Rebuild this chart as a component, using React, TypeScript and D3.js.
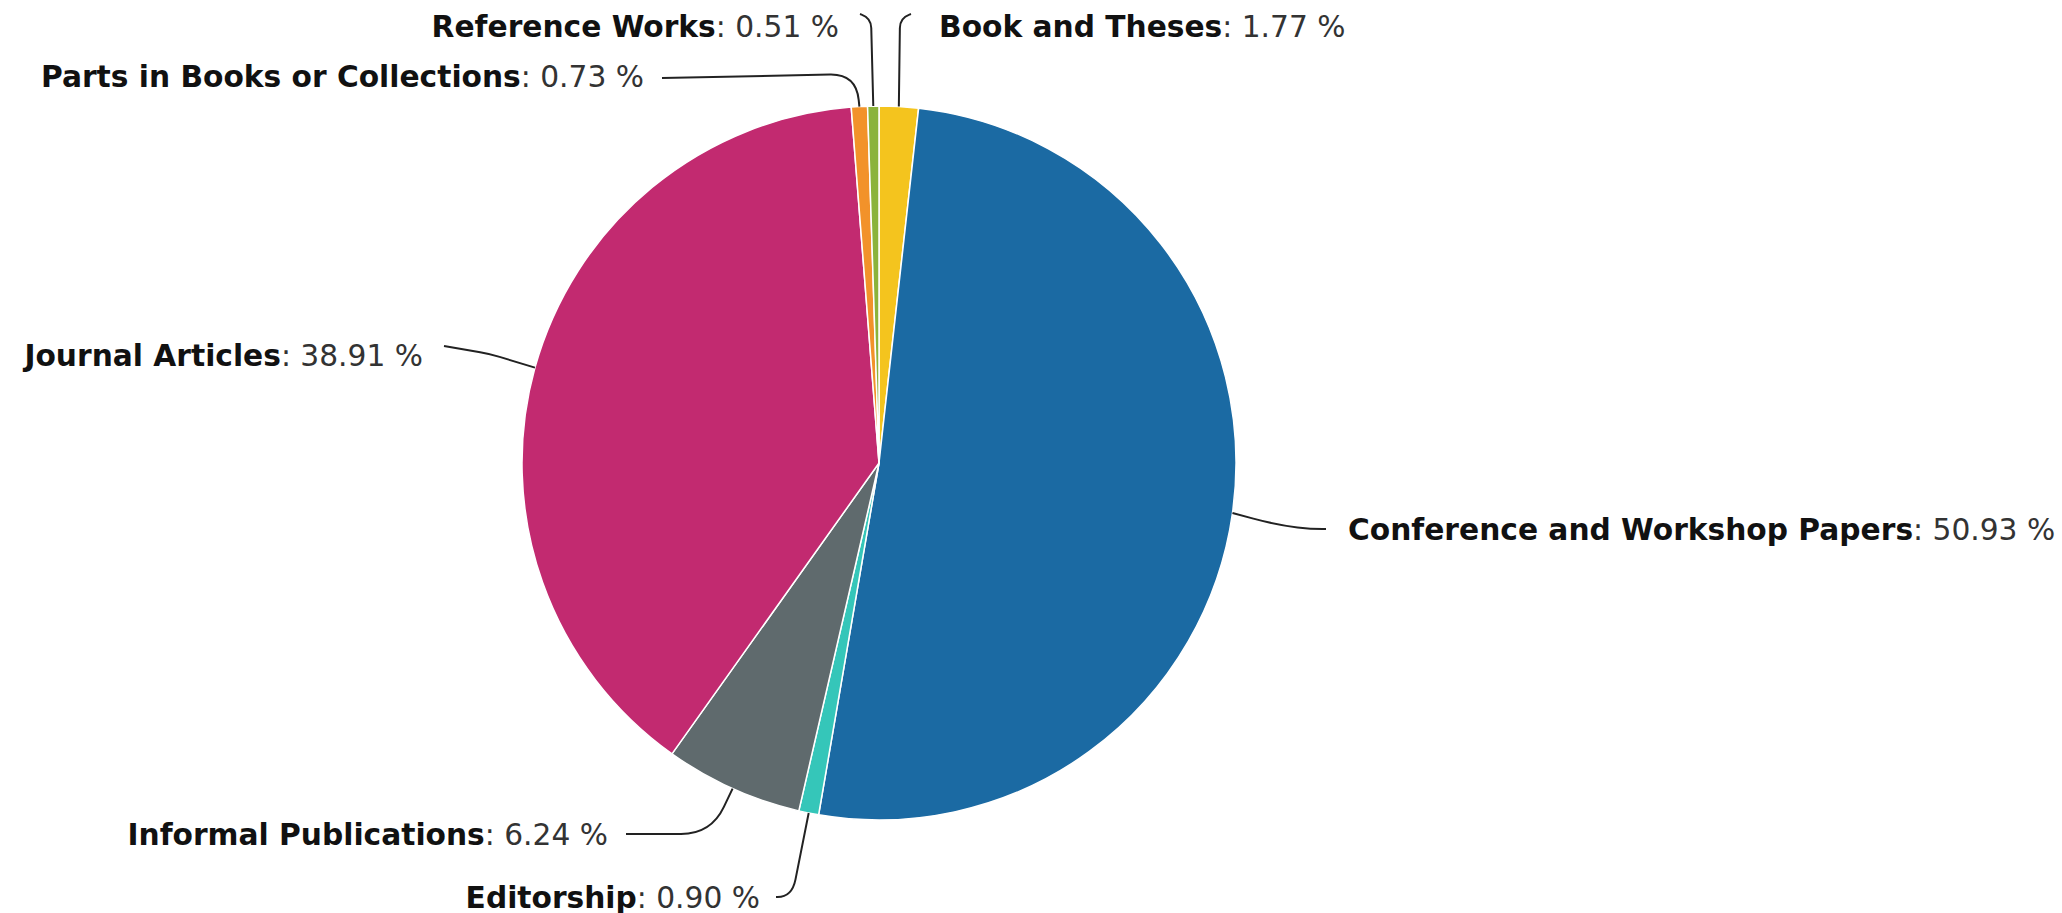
import React from "react";
import * as d3 from "d3";

// ---- data ----
const categories = [
  "Book and Theses",
  "Conference and Workshop Papers",
  "Editorship",
  "Informal Publications",
  "Journal Articles",
  "Parts in Books or Collections",
  "Reference Works",
];
const values = [1.77, 50.93, 0.9, 6.24, 38.91, 0.73, 0.51];
const colors = ["#f4c41e", "#1b6aa3", "#35c6b9", "#5f6a6d", "#c22a70", "#f2922a", "#8bb33b"];

// ---- layout (label placement, in px) ----
const W = 2062;
const H = 913;
const CX = 879;
const CY = 463;
const R = 357;
const FONT = 29.7;

type LabelLayout = { x: number; y: number; anchor: "start" | "end"; elbow: [number, number]; end: [number, number]; rc: number };
const labelLayout: LabelLayout[] = [
  { x: 939, y: 26, anchor: "start", elbow: [900, 18], end: [911, 14], rc: 10 },
  { x: 1348, y: 529, anchor: "start", elbow: [1292, 529], end: [1326, 529], rc: 40 },
  { x: 760, y: 897, anchor: "end", elbow: [792, 897], end: [776, 897], rc: 18 },
  { x: 608, y: 834, anchor: "end", elbow: [711, 834], end: [626, 834], rc: 30 },
  { x: 423, y: 355, anchor: "end", elbow: [490, 354], end: [444, 346], rc: 10 },
  { x: 644, y: 76, anchor: "end", elbow: [856, 74], end: [662, 78], rc: 26 },
  { x: 839, y: 26, anchor: "end", elbow: [871, 18], end: [860, 14], rc: 10 },
];

function leaderPath(p0: [number, number], e: [number, number], p3: [number, number], rc: number) {
  const d1 = Math.hypot(e[0] - p0[0], e[1] - p0[1]);
  const d2 = Math.hypot(p3[0] - e[0], p3[1] - e[1]);
  const r1 = Math.min(rc, d1 * 0.9);
  const r2 = Math.min(rc, d2 * 0.9);
  const a: [number, number] = [e[0] - ((e[0] - p0[0]) / d1) * r1, e[1] - ((e[1] - p0[1]) / d1) * r1];
  const b: [number, number] = [e[0] + ((p3[0] - e[0]) / d2) * r2, e[1] + ((p3[1] - e[1]) / d2) * r2];
  const p = d3.path();
  p.moveTo(p0[0], p0[1]);
  p.lineTo(a[0], a[1]);
  p.quadraticCurveTo(e[0], e[1], b[0], b[1]);
  p.lineTo(p3[0], p3[1]);
  return p.toString();
}

export default function App() {
  const pie = d3
    .pie<number>()
    .sort(null)
    .value((d) => d)
    .startAngle(0)
    .endAngle(2 * Math.PI);
  const arcs = pie(values);
  const arc = d3.arc<d3.PieArcDatum<number>>().innerRadius(0).outerRadius(R);
  const edge = d3.arc<d3.PieArcDatum<number>>().innerRadius(R).outerRadius(R);

  return (
    <svg
      width={W}
      height={H}
      style={{ position: "fixed", left: 0, top: 0, background: "#fff" }}
      fontFamily="'DejaVu Sans', Verdana, sans-serif"
    >
      <g transform={`translate(${CX},${CY})`}>
        {arcs.map((a, i) => (
          <path key={i} d={arc(a) || ""} fill={colors[i]} stroke="#fff" strokeWidth={1.5} strokeLinejoin="round" />
        ))}
      </g>
      {arcs.map((a, i) => {
        const c = edge.centroid(a);
        const p0: [number, number] = [CX + c[0], CY + c[1]];
        const L = labelLayout[i];
        return (
          <path key={"l" + i} d={leaderPath(p0, L.elbow, L.end, L.rc)} fill="none" stroke="#222" strokeWidth={2} />
        );
      })}
      {categories.map((name, i) => {
        const L = labelLayout[i];
        return (
          <text key={"t" + i} x={L.x} y={L.y} textAnchor={L.anchor} dominantBaseline="central" fontSize={FONT}>
            <tspan fontWeight="bold" fill="#111">
              {name}
            </tspan>
            <tspan fill="#333">: {values[i].toFixed(2)} %</tspan>
          </text>
        );
      })}
    </svg>
  );
}
